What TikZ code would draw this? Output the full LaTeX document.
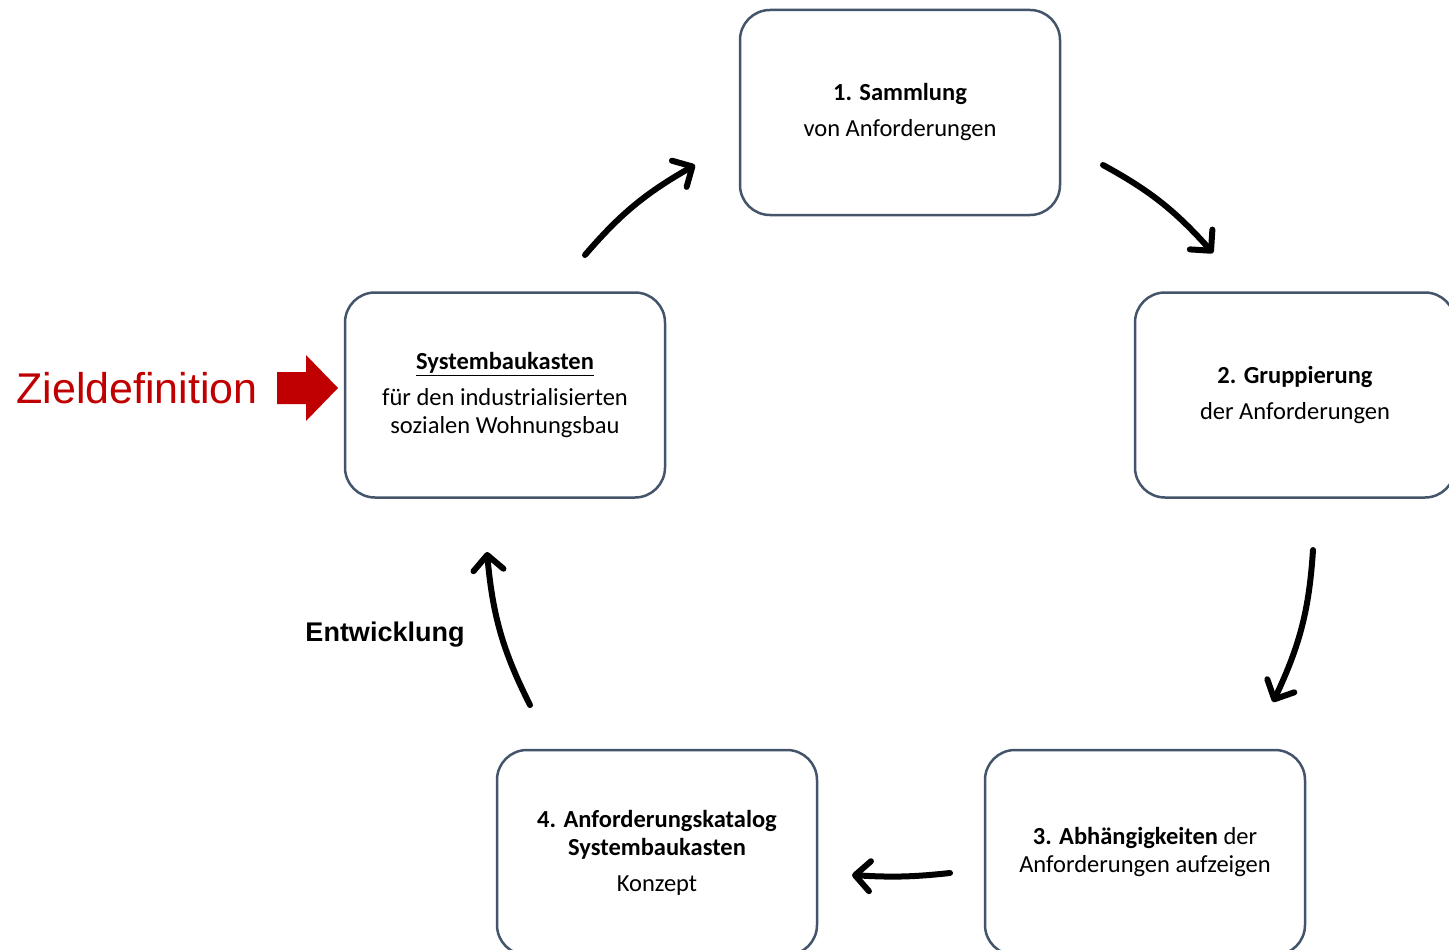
\documentclass[tikz,border=0pt]{standalone}
\usepackage{fontspec}
\setmainfont{Carlito}
\newfontfamily\arialfont{Liberation Sans}
\usetikzlibrary{arrows.meta,bending}

\definecolor{boxgray}{HTML}{44546A}
\definecolor{zielred}{HTML}{C00000}

\begin{document}
\begin{tikzpicture}[line cap=round,line join=round,x=1pt,y=-1pt,
  stepbox/.style={draw=boxgray,line width=2.5pt,rounded corners=30pt,fill=white,
    minimum width=320pt,minimum height=205pt,align=center,inner sep=0pt,
    font=\fontsize{24.5}{28}\selectfont},
  flow/.style={line width=6pt,-{Straight Barb[length=15pt,width=30pt,round]}}]
\useasboundingbox (0,0) rectangle (1449,950);
\clip (0,0) rectangle (1449,950);

% boxes of the cycle
\node[stepbox] (ziel) at (505,395) {\underline{\textbf{Systembaukasten}}\\[8pt]f\"ur den industrialisierten\\sozialen Wohnungsbau};
\node[stepbox] (sammlung) at (900,112.5) {\textbf{1. Sammlung}\\[8pt]von Anforderungen};
\node[stepbox] (gruppe) at (1295,395) {\textbf{2. Gruppierung}\\[8pt]der Anforderungen};
\node[stepbox] (abh) at (1145,852.5) {\textbf{3. Abh\"angigkeiten} der\\Anforderungen aufzeigen};
\node[stepbox] (katalog) at (657,852.5) {\textbf{4. Anforderungskatalog}\\\textbf{Systembaukasten}\\[8pt]Konzept};

% arrow ends
\coordinate (a1s) at (585,255);
\coordinate (a1e) at (695,165);
\coordinate (a2s) at (1103,165);
\coordinate (a2e) at (1213,253);
\coordinate (a3s) at (1313,550);
\coordinate (a3e) at (1273,702);
\coordinate (a4s) at (950,873);
\coordinate (a4e) at (852,875);
\coordinate (a5s) at (530,705);
\coordinate (a5e) at (487,552);

\draw[flow] (a1s) to[bend left=10] (a1e);
\draw[flow] (a2s) to[bend left=10] (a2e);
\draw[flow] (a3s) to[bend left=11] (a3e);
\draw[flow] (a4s) to[bend left=5] (a4e);
\draw[flow] (a5s) to[bend left=11] (a5e);

\node[font=\arialfont\bfseries\fontsize{27}{30}\selectfont] (entw) at (385,635) {Entwicklung};

% target definition
\node[font=\arialfont\fontsize{43}{48}\selectfont,text=zielred] (zieldef) at (137,388) {Zieldefinition};
\fill[zielred] (277,372) -- (306,372) -- (306,355) -- (338,388) -- (306,421) -- (306,404) -- (277,404) -- cycle;
\end{tikzpicture}
\end{document}
